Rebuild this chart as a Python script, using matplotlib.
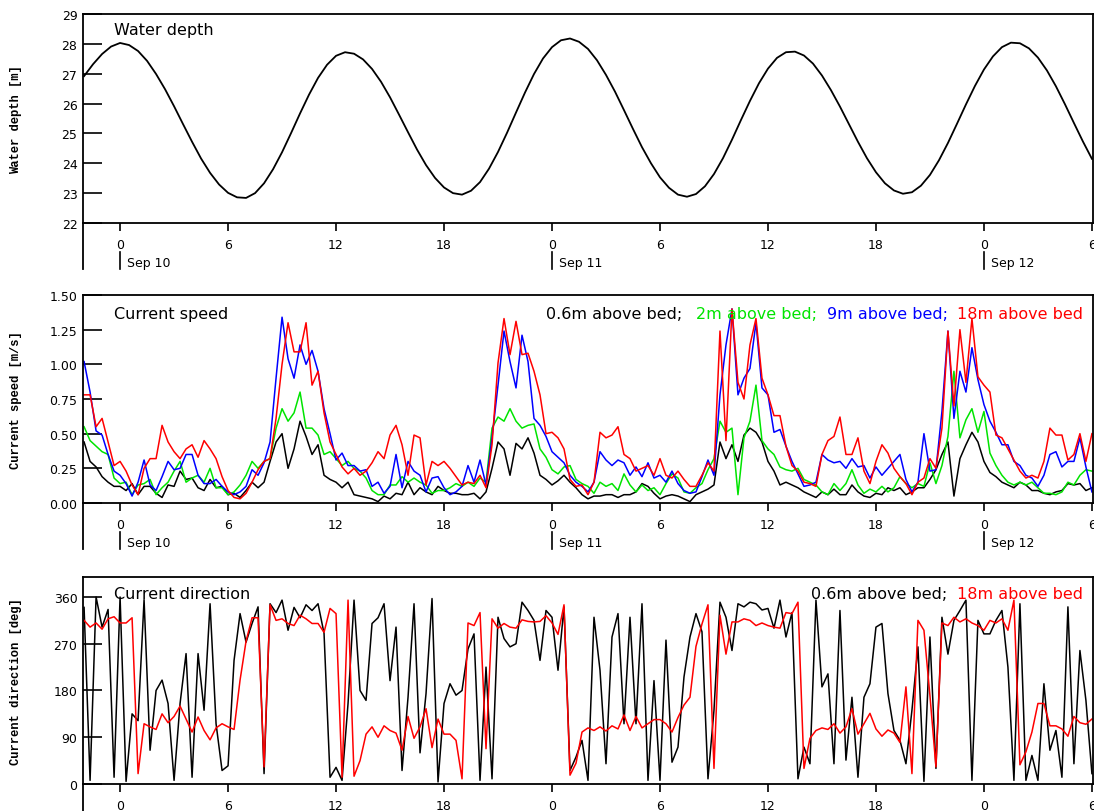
import matplotlib
matplotlib.use("Agg")
import matplotlib.pyplot as plt
import matplotlib.transforms as mtransforms
import numpy as np

# hours are counted from Sep 10 00:00
# water depth, one value every 30 min starting at -2 h
depth_start, depth_step = -2.0, 0.5
water_depth = [
    26.92, 27.32, 27.66, 27.91, 28.03,
    27.96, 27.76, 27.43, 26.99, 26.48, 25.91, 25.31, 24.72, 24.16, 23.68, 23.29, 23.01, 22.86,
    22.84, 23.00, 23.33, 23.80, 24.37, 25.01, 25.67, 26.30, 26.86, 27.30, 27.60, 27.72,
    27.67, 27.48, 27.16, 26.73, 26.21, 25.63, 25.04, 24.46, 23.94, 23.51, 23.19, 23.00,
    22.95, 23.08, 23.37, 23.82, 24.38, 25.02, 25.70, 26.37, 26.99, 27.51, 27.89, 28.12,
    28.18, 28.07, 27.83, 27.45, 26.96, 26.40, 25.78, 25.15, 24.54, 24.00, 23.53, 23.18, 22.95, 22.88,
    22.97, 23.23, 23.64, 24.17, 24.79, 25.45, 26.09, 26.68, 27.17, 27.53, 27.72,
    27.74, 27.61, 27.34, 26.94, 26.45, 25.90, 25.31, 24.72, 24.17, 23.70, 23.33, 23.09, 22.98,
    23.03, 23.25, 23.61, 24.10, 24.68, 25.32, 25.97, 26.59, 27.14, 27.58, 27.89, 28.04,
    28.02, 27.85, 27.54, 27.11, 26.58, 25.98, 25.35, 24.73, 24.15,
]

# current records, one value every 20 min starting at -2 h
rec_start, rec_step = -2.0, 1.0 / 3.0

speed_06 = [
    0.44, 0.30, 0.26, 0.19, 0.15, 0.12, 0.12, 0.09, 0.14, 0.06,
    0.12, 0.12, 0.07, 0.04, 0.13, 0.12, 0.23, 0.17, 0.18, 0.11,
    0.09, 0.17, 0.11, 0.12, 0.06, 0.07, 0.04, 0.09, 0.15, 0.11,
    0.15, 0.30, 0.44, 0.50, 0.25, 0.39, 0.59, 0.48, 0.35, 0.42,
    0.20, 0.17, 0.15, 0.11, 0.15, 0.06, 0.05, 0.04, 0.03, 0.01,
    0.05, 0.03, 0.07, 0.06, 0.15, 0.06,
    0.11, 0.08, 0.06, 0.12, 0.09, 0.07, 0.07, 0.06, 0.06, 0.07,
    0.03, 0.08, 0.25, 0.44, 0.39, 0.20, 0.43, 0.39, 0.47, 0.36,
    0.20, 0.17, 0.13, 0.16, 0.20, 0.15, 0.11, 0.06, 0.03, 0.05,
    0.05, 0.06, 0.06, 0.04, 0.06, 0.06, 0.08, 0.14, 0.12, 0.07,
    0.03, 0.05, 0.06, 0.05, 0.03, 0.01, 0.06, 0.08, 0.10, 0.13,
    0.44, 0.32, 0.42, 0.30, 0.49, 0.54,
    0.51, 0.44, 0.30, 0.23, 0.13, 0.15, 0.13, 0.11, 0.08, 0.06,
    0.04, 0.08, 0.06, 0.10, 0.06, 0.06, 0.13, 0.08, 0.05, 0.04,
    0.07, 0.06, 0.11, 0.09, 0.11, 0.06, 0.08, 0.11, 0.11, 0.17,
    0.24, 0.35, 0.44, 0.05, 0.32, 0.42, 0.51, 0.44, 0.30, 0.22,
    0.19, 0.15, 0.13, 0.11, 0.15, 0.13, 0.09, 0.09, 0.07, 0.06,
    0.08, 0.09, 0.14, 0.13, 0.14, 0.09, 0.11,
]

speed_2 = [
    0.55, 0.45, 0.41, 0.37, 0.35, 0.18, 0.14, 0.15, 0.06, 0.13,
    0.14, 0.17, 0.06, 0.11, 0.15, 0.23, 0.30, 0.15, 0.18, 0.20,
    0.15, 0.25, 0.11, 0.11, 0.06, 0.08, 0.13, 0.20, 0.30, 0.25,
    0.30, 0.32, 0.54, 0.68, 0.59, 0.65, 0.80, 0.54, 0.54, 0.49,
    0.35, 0.37, 0.32, 0.27, 0.30, 0.25, 0.23, 0.18, 0.09, 0.06,
    0.06, 0.13, 0.13, 0.19, 0.15, 0.18,
    0.15, 0.13, 0.07, 0.09, 0.09, 0.11, 0.14, 0.12, 0.15, 0.12,
    0.18, 0.15, 0.54, 0.62, 0.59, 0.68, 0.59, 0.54, 0.56, 0.57,
    0.39, 0.33, 0.24, 0.21, 0.26, 0.27, 0.17, 0.14, 0.12, 0.07,
    0.15, 0.12, 0.14, 0.09, 0.21, 0.13, 0.08, 0.13, 0.09, 0.11,
    0.06, 0.14, 0.21, 0.18, 0.08, 0.07, 0.11, 0.14, 0.24, 0.32,
    0.59, 0.51, 0.54, 0.06, 0.47, 0.59,
    0.85, 0.45, 0.39, 0.35, 0.26, 0.24, 0.23, 0.25, 0.17, 0.15,
    0.13, 0.08, 0.06, 0.14, 0.09, 0.14, 0.24, 0.13, 0.07, 0.10,
    0.08, 0.12, 0.08, 0.11, 0.19, 0.14, 0.11, 0.14, 0.12, 0.29,
    0.14, 0.27, 0.48, 0.95, 0.47, 0.60, 0.68, 0.51, 0.66, 0.36,
    0.27, 0.20, 0.15, 0.13, 0.15, 0.13, 0.15, 0.11, 0.07, 0.07,
    0.06, 0.08, 0.15, 0.13, 0.20, 0.24, 0.23,
]

speed_9 = [
    1.02, 0.80, 0.52, 0.49, 0.35, 0.23, 0.20, 0.14, 0.05, 0.15,
    0.31, 0.13, 0.09, 0.19, 0.30, 0.24, 0.25, 0.35, 0.35, 0.20,
    0.14, 0.14, 0.17, 0.12, 0.08, 0.06, 0.08, 0.12, 0.24, 0.20,
    0.29, 0.44, 0.90, 1.34, 1.04, 0.90, 1.14, 1.00, 1.10, 0.95,
    0.68, 0.50, 0.31, 0.36, 0.27, 0.27, 0.23, 0.24, 0.12, 0.15,
    0.07, 0.12, 0.35, 0.11, 0.30, 0.23,
    0.20, 0.08, 0.18, 0.19, 0.11, 0.06, 0.08, 0.12, 0.27, 0.15,
    0.31, 0.13, 0.47, 0.85, 1.24, 1.02, 0.83, 1.21, 1.02, 0.61,
    0.56, 0.48, 0.37, 0.33, 0.29, 0.20, 0.15, 0.12, 0.08, 0.15,
    0.37, 0.31, 0.27, 0.31, 0.29, 0.20, 0.26, 0.19, 0.29, 0.18,
    0.20, 0.15, 0.23, 0.14, 0.09, 0.07, 0.08, 0.19, 0.31, 0.20,
    0.78, 1.14, 1.40, 0.78, 0.90, 0.97,
    1.30, 0.83, 0.78, 0.51, 0.53, 0.41, 0.30, 0.21, 0.12, 0.13,
    0.15, 0.35, 0.31, 0.29, 0.30, 0.25, 0.32, 0.26, 0.27, 0.18,
    0.26, 0.20, 0.25, 0.30, 0.35, 0.17, 0.08, 0.15, 0.50, 0.23,
    0.24, 0.66, 1.24, 0.61, 0.95, 0.80, 1.12, 0.89, 0.71, 0.59,
    0.51, 0.42, 0.42, 0.30, 0.27, 0.20, 0.18, 0.12, 0.20, 0.35,
    0.37, 0.26, 0.30, 0.30, 0.47, 0.26, 0.08,
]

speed_18 = [
    0.78, 0.78, 0.55, 0.61, 0.44, 0.27, 0.30, 0.23, 0.13, 0.06,
    0.25, 0.32, 0.32, 0.56, 0.44, 0.37, 0.32, 0.39, 0.42, 0.33,
    0.45, 0.39, 0.32, 0.19, 0.09, 0.04, 0.03, 0.07, 0.15, 0.24,
    0.30, 0.32, 0.61, 1.00, 1.30, 1.09, 1.09, 1.30, 0.85, 0.95,
    0.65, 0.44, 0.35, 0.26, 0.21, 0.25, 0.20, 0.23, 0.29, 0.37,
    0.32, 0.49, 0.56, 0.42, 0.20, 0.49,
    0.47, 0.13, 0.30, 0.27, 0.30, 0.25, 0.19, 0.13, 0.15, 0.14,
    0.20, 0.11, 0.42, 1.01, 1.33, 1.07, 1.31, 1.07, 1.08, 0.95,
    0.78, 0.50, 0.51, 0.47, 0.39, 0.17, 0.12, 0.13, 0.06, 0.15,
    0.51, 0.47, 0.49, 0.55, 0.35, 0.32, 0.23, 0.25, 0.27, 0.20,
    0.32, 0.20, 0.18, 0.23, 0.17, 0.12, 0.12, 0.20, 0.29, 0.23,
    1.24, 0.45, 1.40, 0.87, 0.75, 1.14,
    1.33, 0.90, 0.78, 0.63, 0.63, 0.41, 0.27, 0.23, 0.15, 0.14,
    0.12, 0.35, 0.45, 0.48, 0.62, 0.35, 0.35, 0.47, 0.23, 0.14,
    0.30, 0.42, 0.36, 0.25, 0.19, 0.14, 0.06, 0.15, 0.18, 0.32,
    0.25, 0.54, 1.24, 0.70, 1.25, 0.87, 1.33, 0.91, 0.85, 0.80,
    0.49, 0.47, 0.39, 0.31, 0.23, 0.18, 0.20, 0.18, 0.30, 0.54,
    0.49, 0.49, 0.31, 0.35, 0.50, 0.30, 0.50,
]

dir_06 = [
    340, 7, 360, 302, 336, 13, 360, 5, 135, 122,
    355, 65, 180, 200, 155, 7, 155, 251, 13, 251,
    142, 347, 116, 26, 35, 238, 328, 273, 309, 341,
    20, 347, 330, 354, 296, 340, 320, 345, 334, 347,
    290, 13, 32, 7, 155, 354, 180, 161, 309, 320,
    347, 199, 302, 26, 167, 347,
    60, 174, 357, 4, 155, 193, 171, 180, 260, 289,
    7, 225, 10, 321, 280, 264, 270, 350, 334, 315,
    238, 334, 321, 219, 341, 26, 52, 84, 7, 321,
    219, 39, 283, 328, 116, 321, 116, 347, 7, 199,
    7, 277, 42, 71, 206, 283, 328, 293, 10, 142,
    350, 321, 257, 347, 341, 350,
    347, 335, 338, 300, 354, 283, 330, 10, 71, 39,
    354, 187, 212, 39, 334, 46, 167, 13, 167, 193,
    302, 309, 174, 103, 84, 39, 142, 264, 5, 283,
    30, 321, 250, 315, 334, 354, 7, 315, 289, 289,
    315, 334, 225, 7, 347, 7, 55, 7, 193, 65,
    103, 13, 341, 39, 257, 161, 20,
]

dir_18 = [
    315, 302, 310, 298, 318, 322, 310, 310, 320, 20,
    116, 110, 105, 135, 118, 130, 150, 125, 100, 129,
    103, 85, 108, 116, 110, 105, 200, 275, 320, 320,
    33, 345, 315, 318, 309, 305, 325, 318, 309, 309,
    292, 338, 328, 13, 354, 15, 45, 96, 110, 90,
    112, 103, 98, 65, 130, 88,
    110, 145, 70, 125, 96, 96, 84, 10, 310, 305,
    330, 68, 318, 300, 309, 302, 300, 316, 313, 312,
    313, 324, 310, 288, 345, 17, 40, 100, 108, 103,
    110, 102, 112, 106, 133, 103, 130, 108, 116, 124,
    124, 116, 100, 128, 152, 167, 265, 308, 345, 30,
    325, 250, 312, 312, 318, 315,
    305, 310, 305, 302, 300, 330, 328, 350, 30, 88,
    103, 108, 105, 116, 98, 110, 145, 96, 116, 136,
    106, 92, 104, 98, 80, 187, 20, 315, 296, 170,
    33, 310, 305, 321, 312, 318, 310, 305, 296, 315,
    310, 318, 296, 354, 37, 62, 100, 155, 155, 112,
    112, 106, 92, 130, 118, 115, 125,
]

hour_ticks = [0, 6, 12, 18, 24, 30, 36, 42, 48, 54]
hour_labels = ["0", "6", "12", "18", "0", "6", "12", "18", "0", "6"]
day_ticks = [0, 24, 48]
day_labels = ["Sep 10", "Sep 11", "Sep 12"]

GREEN = "#00e400"
BLUE = "#0000ff"
RED = "#ff0000"

t_depth = depth_start + depth_step * np.arange(len(water_depth))
t_rec = rec_start + rec_step * np.arange(len(speed_06))

fig = plt.figure(figsize=(10.94, 8.12), dpi=100)
left, width = 83 / 1094, 1010 / 1094
ax1 = fig.add_axes([left, 1 - 224 / 812, width, 209 / 812])
ax2 = fig.add_axes([left, 1 - 504 / 812, width, 208 / 812])
ax3 = fig.add_axes([left, 1 - 785 / 812, width, 207 / 812])


def style(ax, ylim, yticks, fmt, ylabel, dates=True):
    ax.set_xlim(-2.06, 54.06)
    ax.set_ylim(*ylim)
    ax.set_yticks(yticks)
    ax.set_yticklabels([fmt.format(v) for v in yticks])
    ax.set_xticks(hour_ticks)
    ax.set_xticklabels(hour_labels)
    ax.tick_params(axis="y", direction="in", length=13.5, width=1.2,
                   labelsize=9, pad=4)
    ax.tick_params(axis="x", direction="out", length=6, width=1.2,
                   labelsize=9, pad=5)
    for s in ax.spines.values():
        s.set_linewidth(1.3)
    ax.set_ylabel(ylabel, fontfamily="Liberation Mono", fontweight="bold",
                  fontsize=8.7)
    ax.yaxis.set_label_coords(-0.060, 0.5)

    # longer left spine, and the date row under the hours
    hpx = ax.get_position().height * fig.get_figheight() * fig.dpi
    ax.plot([0, 0], [0, -46 / hpx], transform=ax.transAxes, color="k",
            lw=1.3, clip_on=False)
    if not dates:
        return
    tr = mtransforms.blended_transform_factory(ax.transData, ax.transAxes)
    shift = mtransforms.ScaledTranslation(7 / 100, 0, fig.dpi_scale_trans)
    for d, lab in zip(day_ticks, day_labels):
        ax.plot([d, d], [-29 / hpx, -46 / hpx], transform=tr, color="k",
                lw=1.2, clip_on=False)
        ax.text(d, -40 / hpx, lab, transform=tr + shift, ha="left",
                va="center", fontsize=9, clip_on=False)


# water depth
ax1.plot(t_depth, water_depth, color="k", lw=1.3)
style(ax1, (22, 29), list(range(22, 30)), "{:d}", "Water depth [m]")
ax1.text(0.031, 0.928, "Water depth", transform=ax1.transAxes, fontsize=11.5,
         va="center")

# current speed
ax2.plot(t_rec, speed_06, color="k", lw=1.1)
ax2.plot(t_rec, speed_2, color=GREEN, lw=1.1)
ax2.plot(t_rec, speed_9, color=BLUE, lw=1.1)
ax2.plot(t_rec, speed_18, color=RED, lw=1.1)
style(ax2, (0, 1.5), [0, 0.25, 0.5, 0.75, 1.0, 1.25, 1.5], "{:.2f}",
      "Current speed [m/s]")
ax2.text(0.031, 0.909, "Current speed", transform=ax2.transAxes,
         fontsize=11.5, va="center")
for x, lab, c in [(0.4584, "0.6m above bed;", "k"),
                  (0.6069, "2m above bed;", GREEN),
                  (0.7366, "9m above bed;", BLUE),
                  (0.8653, "18m above bed", RED)]:
    ax2.text(x, 0.909, lab, color=c, transform=ax2.transAxes, fontsize=11.5,
             va="center")

# current direction
ax3.plot(t_rec, dir_06, color="k", lw=1.1)
ax3.plot(t_rec, dir_18, color=RED, lw=1.1)
style(ax3, (0, 398.5), [0, 90, 180, 270, 360], "{:d}",
      "Current direction [deg]", dates=False)
ax3.text(0.031, 0.918, "Current direction", transform=ax3.transAxes,
         fontsize=11.5, va="center")
for x, lab, c in [(0.7208, "0.6m above bed;", "k"),
                  (0.8653, "18m above bed", RED)]:
    ax3.text(x, 0.918, lab, color=c, transform=ax3.transAxes, fontsize=11.5,
             va="center")

fig.savefig("out.png", dpi=100)
